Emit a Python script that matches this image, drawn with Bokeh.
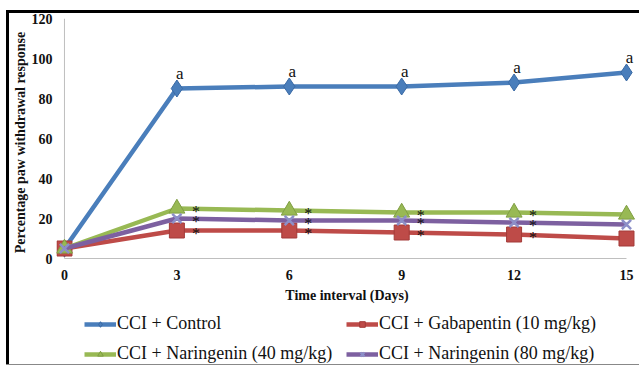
from bokeh.plotting import figure
from bokeh.models import Range1d, FixedTicker, Legend, LegendItem, Div, Spacer
from bokeh.layouts import column, row
from bokeh.core.properties import value
from bokeh.embed import file_html
from bokeh.resources import INLINE

# ---- data ----
days = [0, 3, 6, 9, 12, 15]
control = [5, 85, 86, 86, 88, 93]
gabapentin = [5, 14, 14, 13, 12, 10]
nar40 = [5, 25, 24, 23, 23, 22]
nar80 = [5, 20, 19, 19, 18, 17]
y_ticks = [0, 20, 40, 60, 80, 100, 120]
series_names = ["CCI + Control", "CCI + Gabapentin (10 mg/kg)",
                "CCI + Naringenin (40 mg/kg)", "CCI + Naringenin (80 mg/kg)"]
x_title = "Time interval (Days)"
y_title = "Percentage paw withdrawal response"

FONT = "Liberation Serif"

p = figure(width=630, height=293, output_backend="svg", toolbar_location=None,
           x_range=Range1d(-0.213, 15.294), y_range=Range1d(-4, 120),
           min_border_left=46, min_border_right=2, min_border_top=5,
           min_border_bottom=40)
p.background_fill_color = "white"
p.border_fill_color = "white"
p.outline_line_color = None
p.xgrid.visible = False
p.ygrid.visible = False

p.xaxis.ticker = FixedTicker(ticks=days)
p.yaxis.ticker = FixedTicker(ticks=y_ticks)
for ax in (p.xaxis, p.yaxis):
    ax.axis_line_color = None
    ax.major_tick_line_color = None
    ax.minor_tick_line_color = None
    ax.major_tick_out = 0
    ax.major_tick_in = 0
    ax.minor_tick_out = 0
    ax.major_label_text_font = FONT
    ax.major_label_text_font_style = "bold"
    ax.major_label_text_font_size = "14px"
    ax.major_label_text_color = "#111"
    ax.axis_label_text_font = FONT
    ax.axis_label_text_font_style = "bold"
    ax.axis_label_text_font_size = "14px"
    ax.axis_label_text_color = "#111"
p.xaxis.major_label_standoff = 3
p.yaxis.major_label_standoff = 4
p.xaxis.axis_label = x_title
p.yaxis.axis_label = y_title
p.xaxis.axis_label_standoff = 5
p.yaxis.axis_label_standoff = 1

# axis lines at data zero
p.segment(x0=[days[0]], y0=[y_ticks[0]], x1=[days[-1]], y1=[y_ticks[0]],
          line_color="#BFBFBF", line_width=1)
p.segment(x0=[days[0]], y0=[y_ticks[0]], x1=[days[0]], y1=[y_ticks[-1]],
          line_color="#BFBFBF", line_width=1)

colors = ["#4A7EBB", "#BE4B48", "#98B954", "#7D60A0"]
edge = ["#3A6AA5", "#A33B38", "#7F9E43", "#6A5090"]
markers = ["diamond", "square", "triangle", "x"]
sizes = [17, 15, 16, 13]
series = [control, gabapentin, nar40, nar80]

# legend strip (second figure; its renderers lie outside its visible range)
p2 = figure(width=630, height=58, output_backend="svg", toolbar_location=None,
            x_range=Range1d(100, 101), y_range=Range1d(100, 101),
            min_border_left=46, min_border_right=2, min_border_top=4,
            min_border_bottom=0)
p2.axis.visible = False
p2.grid.visible = False
p2.outline_line_color = None
p2.background_fill_color = "white"
p2.border_fill_color = "white"

items = []
for name, ys, c, e, m, s in zip(series_names, series, colors, edge, markers, sizes):
    p.line(days, ys, line_color=c, line_width=4.5)
    lln = p2.line(days, ys, line_color=c, line_width=4.5)
    if m == "x":
        p.scatter(days, ys, marker=m, size=s, line_color="#8C8FC8", line_width=2.5)
        lsc = p2.scatter(days, ys, marker=m, size=14, line_color="#8C8FC8", line_width=2)
    else:
        p.scatter(days, ys, marker=m, size=s, fill_color=c, line_color=e, line_width=1)
        lsc = p2.scatter(days, ys, marker=m, size=14, fill_color=c, line_color=e, line_width=1)
    items.append(LegendItem(label=name, renderers=[lln, lsc]))

# annotations
a_x = days[1:]
a_y = control[1:]
p.text(x=a_x, y=a_y, text=["a"] * len(a_x), text_font=value(FONT),
       text_font_size="17px", text_align="center", text_baseline="bottom",
       x_offset=3, y_offset=-6, text_color="#111")
s_x = days[1:] * 3
s_y = gabapentin[1:] + nar40[1:] + nar80[1:]
p.text(x=s_x, y=s_y, text=["*"] * len(s_x), text_font=value(FONT),
       text_font_size="16px", text_align="center", text_baseline="middle",
       x_offset=19, y_offset=3, text_color="#111")

legend = Legend(items=items, orientation="horizontal", ncols=2,
                location=(28, 0), margin=0, padding=2, spacing=9,
                glyph_width=32, glyph_height=14, label_standoff=1,
                label_width=220, label_text_font=FONT,
                label_text_font_size="18px", label_text_color="#111",
                background_fill_alpha=0, border_line_color=None)
p2.add_layout(legend, "center")

# frame lines around the chart (as in the reference picture)
top_line = Div(text="", width=633, height=3, margin=0,
               styles={"background-color": "#000"})
left_line = Div(text="", width=3, height=351, margin=0,
                styles={"background-color": "#000"})
bottom_line = Div(text="", width=633, height=1, margin=0,
                  styles={"background-color": "#888"})
content = column(p, p2, spacing=0)
layout = column(
    Spacer(width=639, height=10, margin=0),
    row(Spacer(width=6, height=3, margin=0), top_line, spacing=0),
    row(Spacer(width=6, height=351, margin=0), left_line, content, spacing=0),
    row(Spacer(width=6, height=1, margin=0), bottom_line, spacing=0),
    spacing=0,
)
open("out.html", "w").write(file_html(layout, INLINE))
